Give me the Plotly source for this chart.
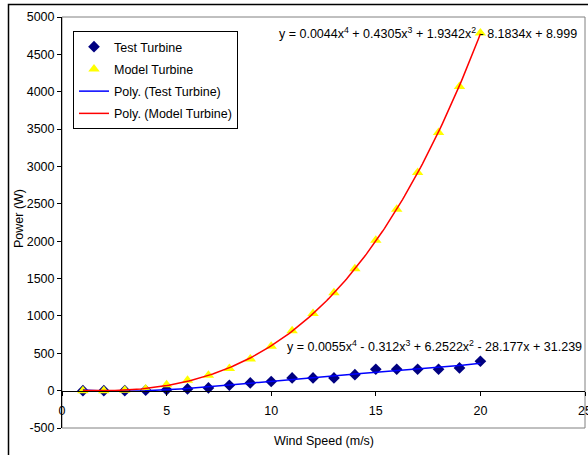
import numpy as np
import plotly.graph_objects as go

wind_speed = list(range(1, 21))
test_turbine = [0, 0, 0, 5, 13, 23, 36, 72, 103, 122, 170, 170, 170, 214, 286, 286, 286, 286, 304, 393]
model_turbine = [0, 0, 5, 23, 80, 138, 205, 295, 425, 595, 800, 1032, 1310, 1631, 2011, 2426, 2918, 3453, 4071, 4786]
eq_model = "y = 0.0044x<sup>4</sup> + 0.4305x<sup>3</sup> + 1.9342x<sup>2</sup> - 8.1834x + 8.999"
eq_test = "y = 0.0055x<sup>4</sup> - 0.312x<sup>3</sup> + 6.2522x<sup>2</sup> - 28.177x + 31.239"
x_ticks = [0, 5, 10, 15, 20, 25]
y_ticks = list(range(-500, 5001, 500))
y_tick_text = [str(v) for v in y_ticks]

FONT = "Liberation Sans, Arial, sans-serif"
FS = 12.5

# polynomial trendlines (order 4), as Excel does
xs = np.linspace(min(wind_speed), max(wind_speed), 200)
fit_test = np.polyval(np.polyfit(wind_speed, test_turbine, 4), xs)
fit_model = np.polyval(np.polyfit(wind_speed, model_turbine, 4), xs)

fig = go.Figure()
fig.add_trace(go.Scatter(x=wind_speed, y=test_turbine, mode="markers", name="Test Turbine",
                         legendgroup="a",
                         marker=dict(symbol="diamond", size=9, color="#000080")))
fig.add_trace(go.Scatter(x=wind_speed, y=model_turbine, mode="markers", name="Model Turbine",
                         legendgroup="b",
                         marker=dict(symbol="triangle-up", size=10, color="#FFFF00")))
fig.add_trace(go.Scatter(x=xs, y=fit_test, mode="lines", name="Poly. (Test Turbine)",
                         legendgroup="c",
                         line=dict(color="#0000FF", width=1.5)))
fig.add_trace(go.Scatter(x=xs, y=fit_model, mode="lines", name="Poly. (Model Turbine)",
                         legendgroup="d",
                         line=dict(color="#FF0000", width=1.5)))

fig.update_layout(
    width=588, height=455,
    margin=dict(l=62, r=3, t=17, b=27, autoexpand=False),
    paper_bgcolor="white", plot_bgcolor="white",
    font=dict(family=FONT, size=FS, color="black"),
    showlegend=True,
    legend=dict(x=11 / 523, y=(428 - 31) / 411, xanchor="left", yanchor="top",
                bgcolor="white", bordercolor="black", borderwidth=1,
                font=dict(size=FS), tracegroupgap=3, itemwidth=30),
    xaxis=dict(range=[0, 25], tickvals=x_ticks, showgrid=False, zeroline=False,
               showline=True, linecolor="black", linewidth=1,
               ticks="outside", ticklen=4, tickcolor="black", ticklabelstandoff=4,
               ticklabeloverflow="allow", automargin=False,
               anchor="free", position=500 / 5500, tickfont=dict(size=FS)),
    yaxis=dict(range=[-500, 5000], tickvals=y_ticks, ticktext=y_tick_text,
               showgrid=False, zeroline=False, automargin=False,
               showline=True, linecolor="black", linewidth=1,
               ticks="outside", ticklen=4, tickcolor="black", tickfont=dict(size=FS)),
    shapes=[
        dict(type="rect", xref="paper", yref="paper", x0=0, x1=1, y0=0, y1=1,
             line=dict(color="#808080", width=1), layer="below"),
        dict(type="rect", xref="paper", yref="paper",
             x0=(8.5 - 62) / 523, x1=(600 - 62) / 523,
             y0=(428 - 470) / 411, y1=(428 - 4.5) / 411,
             line=dict(color="black", width=1.5)),
    ],
    annotations=[
        dict(text=eq_model, xref="paper", yref="paper", x=(277 - 62) / 523, y=(428 - 33) / 411,
             xanchor="left", yanchor="middle", showarrow=False, font=dict(size=FS)),
        dict(text=eq_test, xref="paper", yref="paper", x=(285 - 62) / 523, y=(428 - 346) / 411,
             xanchor="left", yanchor="middle", showarrow=False, font=dict(size=FS)),
        dict(text="Wind Speed (m/s)", xref="paper", yref="paper", x=0.5, y=(428 - 441) / 411,
             xanchor="center", yanchor="middle", showarrow=False, font=dict(size=FS)),
        dict(text="Power (W)", xref="paper", yref="paper", x=(19 - 62) / 523, y=(428 - 219) / 411,
             xanchor="center", yanchor="middle", showarrow=False, textangle=-90,
             font=dict(size=FS)),
    ],
)

fig.write_html("out.html", config={"displayModeBar": False},
               post_script="document.body.style.margin='0';")
